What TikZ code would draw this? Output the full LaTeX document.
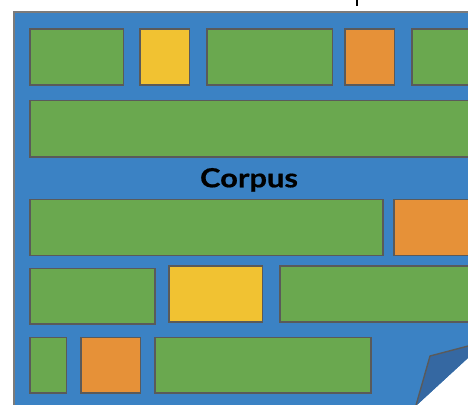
\documentclass[tikz,border=0pt]{standalone}
\usepackage{graphicx}
\usepackage{fontspec}
\setmainfont{Lato}
\newfontfamily\titlefont[FakeBold=0.5]{Lato}
\definecolor{pageblue}{HTML}{3B82C4}
\definecolor{flapblue}{HTML}{3568A2}
\definecolor{blockgreen}{HTML}{6AA84F}
\definecolor{blockyellow}{HTML}{F1C232}
\definecolor{blockorange}{HTML}{E69138}
\definecolor{edgegray}{HTML}{5A5A5A}
\tikzset{
  block/.style={draw=edgegray, line width=1.6bp},
  gblock/.style={block, fill=blockgreen},
  yblock/.style={block, fill=blockyellow},
  oblock/.style={block, fill=blockorange},
}
\begin{document}
\begin{tikzpicture}[x=1bp, y=-1bp]
\useasboundingbox (0,0) rectangle (468,404);
% page with the lower right corner turned over
\fill[pageblue] (14,12) -- (475,12) -- (475,351.5) -- (415.8,406) -- (14,406) -- cycle;
\draw[edgegray!80, line width=1.4bp] (14,406) -- (14,12) -- (475,12);
% blocks of text, row by row
\draw[gblock] (30,29) rectangle (123.5,85);
\draw[yblock] (140,29) rectangle (189.3,85);
\draw[gblock] (206.7,29) rectangle (332.3,85);
\draw[oblock] (345,29) rectangle (394.3,85);
\draw[gblock] (412,29) rectangle (480,85);
\draw[gblock] (30,100.5) rectangle (480,156.7);
\draw[gblock] (30,199.6) rectangle (383,255.3);
\draw[oblock] (393.8,199.6) rectangle (480,255.3);
\draw[gblock] (30,268.3) rectangle (154.8,324.2);
\draw[yblock] (168.8,265.8) rectangle (262.3,322.2);
\draw[gblock] (279.8,265.8) rectangle (480,322.2);
\draw[gblock] (30,337.3) rectangle (66.6,393.2);
\draw[oblock] (80.8,337.3) rectangle (140.4,393.2);
\draw[gblock] (154.8,337.3) rectangle (371,393.2);
% title, set a little wide
\node[font=\titlefont\bfseries\fontsize{26.5}{30}\selectfont, inner sep=0pt, anchor=base] (title) at (249,187.3) {\scalebox{1.17}[1]{Corpus}};
% turned-over corner
\fill[flapblue] (415.8,406) -- (430,356) -- (475,344.2) -- (475,351.5) -- cycle;
\draw[edgegray, line width=1.4bp, line join=round] (415.8,406) -- (430,356) -- (475,344.2);
% descender of the heading above the page
\draw[black, line width=2.4bp] (356.8,-1) -- (356.8,5.5);
\end{tikzpicture}
\end{document}
